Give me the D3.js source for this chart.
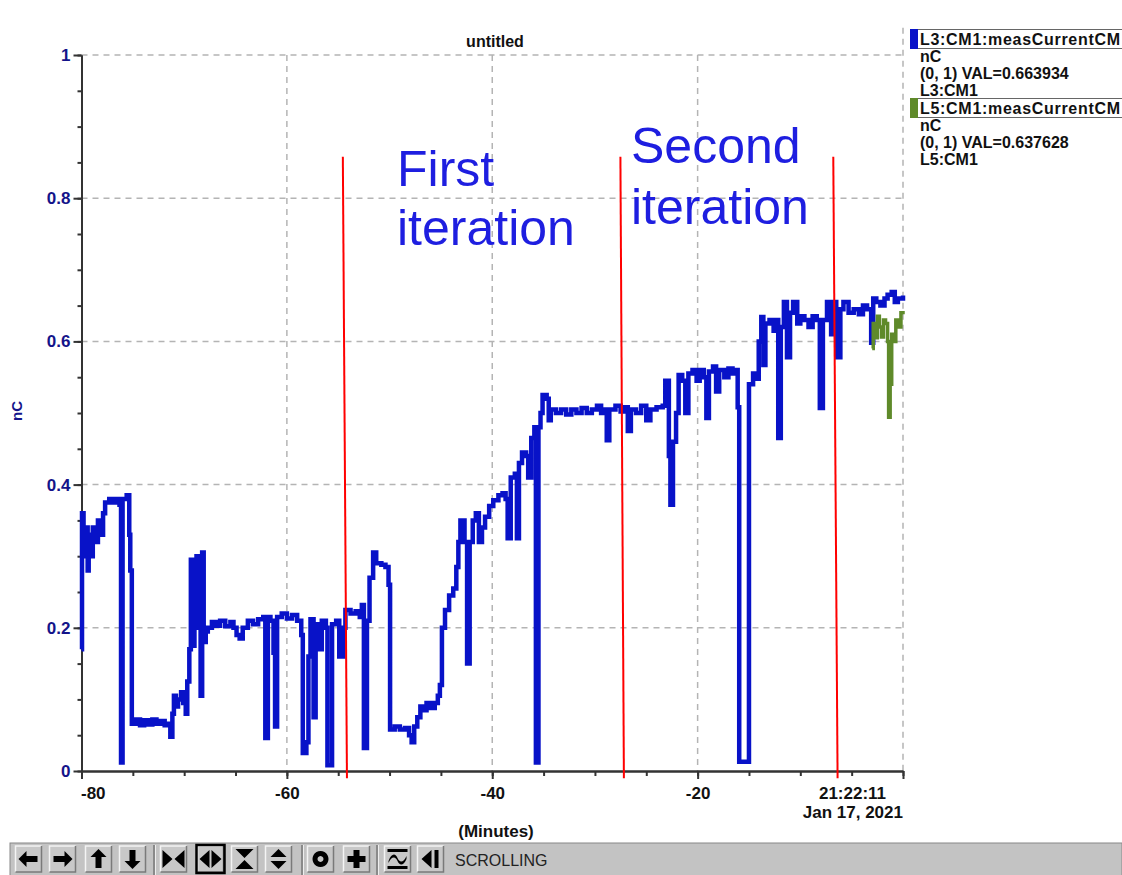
<!DOCTYPE html>
<html>
<head>
<meta charset="utf-8">
<script src="https://cdn.jsdelivr.net/npm/d3@7"></script>
<style>
  body { margin: 0; background: #fff; }
  svg { display: block; }
</style>
</head>
<body>
<div id="chart"></div>
<script>
// L3:CM1:measCurrentCM, minutes before 21:22:11 and nC
var blueT = [-80.0, -79.95, -79.8, -79.6, -79.4, -79.3, -79.1, -78.9, -78.6, -78.4, -78.1, -77.9, -77.7, -77.3, -77.0, -76.7, -76.3, -76.15, -76.0, -75.6,
  -75.35, -75.25, -75.1, -74.7, -74.3, -73.9, -73.5, -73.1, -72.7, -72.3, -71.9, -71.5, -71.35, -71.15, -71.0, -70.8, -70.6, -70.3, -70.1, -69.85,
  -69.7, -69.5, -69.35, -69.2, -69.0, -68.8, -68.6, -68.4, -68.25, -68.1, -67.9, -67.7, -67.3, -66.9, -66.5, -66.0, -65.5, -65.2, -64.9, -64.6,
  -64.3, -63.8, -63.3, -62.8, -62.3, -62.1, -61.85, -61.6, -61.3, -61.15, -60.95, -60.5, -60.0, -59.5, -59.0, -58.6, -58.45, -58.1, -57.9, -57.7,
  -57.4, -57.2, -56.8, -56.6, -56.2, -56.05, -55.6, -55.2, -54.9, -54.5, -54.3, -53.8, -53.3, -52.9, -52.7, -52.5, -52.2, -51.95, -51.6, -51.3,
  -50.8, -50.4, -50.1, -49.95, -49.5, -49.0, -48.5, -48.1, -47.85, -47.6, -47.3, -47.0, -46.7, -46.4, -46.0, -45.6, -45.3, -45.1, -44.9, -44.6,
  -44.2, -43.8, -43.5, -43.3, -43.1, -42.7, -42.45, -42.2, -41.9, -41.6, -41.3, -41.0, -40.7, -40.3, -39.9, -39.4, -39.0, -38.7, -38.5, -38.2,
  -37.8, -37.6, -37.4, -37.1, -36.7, -36.5, -36.2, -35.9, -35.75, -35.5, -35.3, -35.1, -34.7, -34.5, -34.3, -33.8, -33.3, -32.8, -32.3, -31.8,
  -31.3, -30.8, -30.3, -29.8, -29.4, -29.0, -28.85, -28.6, -28.0, -27.5, -27.1, -26.8, -26.5, -26.0, -25.5, -25.0, -24.6, -24.0, -23.4, -23.15,
  -22.8, -22.65, -22.4, -22.1, -21.85, -21.5, -21.2, -20.9, -20.5, -20.1, -19.8, -19.4, -19.15, -18.9, -18.5, -18.2, -17.9, -17.4, -17.0, -16.6,
  -16.3, -16.1, -15.95, -15.0, -14.6, -14.3, -14.05, -13.8, -13.6, -13.4, -13.0, -12.6, -12.3, -12.15, -11.9, -11.6, -11.3, -11.0, -10.7, -10.3,
  -10.0, -9.6, -9.2, -8.8, -8.4, -8.1, -7.8, -7.4, -7.0, -6.8, -6.5, -6.1, -5.8, -5.3, -4.8, -4.3, -3.9, -3.5, -3.1, -2.9,
  -2.6, -2.2, -1.8, -1.5, -1.1, -0.8, -0.5, 0.0];
var blueV = [0.17, 0.36, 0.30, 0.34, 0.28, 0.33, 0.30, 0.34, 0.32, 0.35, 0.33, 0.36, 0.375, 0.38, 0.375, 0.38, 0.372, 0.012, 0.38, 0.385,
  0.33, 0.28, 0.066, 0.072, 0.064, 0.071, 0.065, 0.072, 0.066, 0.07, 0.064, 0.066, 0.048, 0.08, 0.105, 0.09, 0.1, 0.11, 0.095, 0.08,
  0.125, 0.17, 0.295, 0.175, 0.21, 0.3, 0.2, 0.105, 0.305, 0.18, 0.195, 0.2, 0.208, 0.203, 0.21, 0.202, 0.208, 0.2, 0.19, 0.185,
  0.2, 0.21, 0.205, 0.212, 0.215, 0.046, 0.215, 0.21, 0.165, 0.062, 0.215, 0.22, 0.213, 0.218, 0.21, 0.19, 0.025, 0.04, 0.16, 0.212,
  0.075, 0.205, 0.17, 0.21, 0.2, 0.008, 0.205, 0.21, 0.16, 0.2, 0.225, 0.22, 0.223, 0.215, 0.232, 0.032, 0.21, 0.27, 0.305, 0.29,
  0.288, 0.285, 0.26, 0.058, 0.062, 0.058, 0.06, 0.05, 0.04, 0.062, 0.075, 0.09, 0.085, 0.095, 0.088, 0.095, 0.105, 0.12, 0.2, 0.225,
  0.245, 0.255, 0.285, 0.32, 0.35, 0.32, 0.15, 0.32, 0.35, 0.36, 0.32, 0.34, 0.355, 0.37, 0.378, 0.385, 0.388, 0.38, 0.325, 0.41,
  0.415, 0.325, 0.43, 0.445, 0.44, 0.41, 0.465, 0.48, 0.012, 0.48, 0.5, 0.525, 0.52, 0.49, 0.505, 0.5, 0.505, 0.498, 0.505, 0.5,
  0.507, 0.5, 0.505, 0.51, 0.5, 0.505, 0.462, 0.505, 0.51, 0.502, 0.508, 0.475, 0.505, 0.5, 0.51, 0.49, 0.505, 0.508, 0.51, 0.545,
  0.44, 0.372, 0.46, 0.5, 0.553, 0.545, 0.5, 0.555, 0.56, 0.545, 0.56, 0.55, 0.493, 0.558, 0.565, 0.53, 0.56, 0.55, 0.562, 0.555,
  0.56, 0.508, 0.013, 0.54, 0.555, 0.548, 0.6, 0.634, 0.567, 0.625, 0.63, 0.615, 0.63, 0.465, 0.62, 0.655, 0.578, 0.64, 0.655, 0.625,
  0.635, 0.63, 0.62, 0.635, 0.63, 0.507, 0.63, 0.655, 0.61, 0.655, 0.578, 0.645, 0.655, 0.64, 0.645, 0.638, 0.65, 0.645, 0.598, 0.66,
  0.655, 0.65, 0.66, 0.665, 0.669, 0.655, 0.66, 0.664];

// L5:CM1:measCurrentCM (only the last few minutes)
var greenT = [-3.0, -2.9, -2.7, -2.5, -2.3, -2.1, -1.9, -1.7, -1.5, -1.4, -1.25, -1.1, -0.9, -0.7, -0.4, -0.2, 0.0];
var greenV = [0.59, 0.625, 0.605, 0.635, 0.62, 0.606, 0.63, 0.625, 0.6, 0.494, 0.54, 0.61, 0.6, 0.63, 0.62, 0.64, 0.638];

var xMajor = [-80, -60, -40, -20, 0];
var yMajor = [0, 0.2, 0.4, 0.6, 0.8, 1];
var legendNames = ["L3:CM1:measCurrentCM", "L5:CM1:measCurrentCM"];
var legendUnits = ["nC", "nC"];
var legendVals = ["(0, 1) VAL=0.663934", "(0, 1) VAL=0.637628"];
var legendDev = ["L3:CM1", "L5:CM1"];
var legendColors = ["#0812c8", "#5f8a2a"];

// hand drawn notes: [minute at top, minute at bottom]
var noteLines = [[-54.55, -54.15], [-27.52, -27.18], [-6.79, -6.37]];
var noteTop = 0.858, noteBottom = -0.01;

var W = 1122, H = 875;
var x = d3.scaleLinear().domain([-80, 0]).range([81.5, 903]);
var y = d3.scaleLinear().domain([0, 1]).range([771, 55]);

var svg = d3.select("#chart").append("svg")
    .attr("width", W)
    .attr("height", H)
    .style("font-family", "'Liberation Sans', Arial, sans-serif");

svg.append("rect").attr("width", W).attr("height", H).attr("fill", "#fff");

// grid
var grid = svg.append("g")
    .attr("stroke", "#b4b4b4")
    .attr("stroke-width", 1.5)
    .attr("stroke-dasharray", "6,5");
grid.selectAll(".gy").data(yMajor.filter(function(d) { return d > 0; }))
  .enter().append("line")
    .attr("x1", x(-80)).attr("x2", x(0))
    .attr("y1", function(d) { return y(d); })
    .attr("y2", function(d) { return y(d); });
grid.selectAll(".gx").data(xMajor.filter(function(d) { return d > -80; }))
  .enter().append("line")
    .attr("x1", function(d) { return x(d); })
    .attr("x2", function(d) { return x(d); })
    .attr("y1", function(d) { return d === 0 ? y(1.038) : y(1); })
    .attr("y2", y(0));

// axes
var yAxis = d3.axisLeft(y).tickValues(yMajor).tickSize(8).tickSizeOuter(0).tickPadding(3)
    .tickFormat(function(d) { return d === 0 || d === 1 ? String(d) : d3.format(".1f")(d); });
var yMinor = d3.axisLeft(y).tickValues(d3.range(0, 1.001, 0.05)).tickSize(4).tickSizeOuter(0).tickFormat("");
var xAxis = d3.axisBottom(x).tickValues(xMajor).tickSize(8).tickSizeOuter(0).tickPadding(8)
    .tickFormat(function(d) { return d === 0 ? "21:22:11" : String(d); });
var xMinor = d3.axisBottom(x).tickValues(d3.range(-80, 0.1, 5)).tickSize(5).tickSizeOuter(0).tickFormat("");

var gy2 = svg.append("g").attr("transform", "translate(" + x(-80) + ",0)").call(yMinor);
var gy = svg.append("g").attr("transform", "translate(" + x(-80) + ",0)").call(yAxis);
var gx2 = svg.append("g").attr("transform", "translate(0," + y(0) + ")").call(xMinor);
var gx = svg.append("g").attr("transform", "translate(0," + y(0) + ")").call(xAxis);

[gy, gy2, gx, gx2].forEach(function(g) {
  g.select(".domain").attr("stroke", "#333").attr("stroke-width", 2);
  g.selectAll(".tick line").attr("stroke", "#333").attr("stroke-width", 2);
});
gy.selectAll(".tick text")
    .attr("fill", "#14148a").attr("font-size", "17px").attr("font-weight", "bold");
gx.selectAll(".tick text")
    .attr("fill", "#111").attr("font-size", "17px").attr("font-weight", "bold")
    .attr("text-anchor", function(d) { return d === -80 ? "start" : "middle"; })
    .attr("dx", function(d) { return d === -80 ? -1 : d === 0 ? -51 : 0; });

svg.append("text")
    .attr("x", x(0)).attr("y", 818)
    .attr("text-anchor", "end")
    .attr("font-size", "17px").attr("font-weight", "bold").attr("fill", "#111")
    .text("Jan 17, 2021");

svg.append("text")
    .attr("x", 496).attr("y", 837)
    .attr("text-anchor", "middle")
    .attr("font-size", "17px").attr("font-weight", "bold").attr("fill", "#111")
    .text("(Minutes)");

svg.append("text")
    .attr("x", 495).attr("y", 47)
    .attr("text-anchor", "middle")
    .attr("font-size", "16px").attr("font-weight", "bold").attr("fill", "#111")
    .text("untitled");

svg.append("text")
    .attr("transform", "translate(22,411) rotate(-90)")
    .attr("text-anchor", "middle")
    .attr("font-size", "15px").attr("font-weight", "bold").attr("fill", "#14148a")
    .text("nC");

// series
var line = d3.line()
    .x(function(d) { return x(d[0]); })
    .y(function(d) { return y(d[1]); })
    .curve(d3.curveStepAfter);

var bluePts = d3.zip(blueT, blueV);
var greenPts = d3.zip(greenT, greenV);

svg.append("path")
    .datum(bluePts)
    .attr("d", line)
    .attr("fill", "none")
    .attr("stroke", legendColors[0])
    .attr("stroke-width", 4.5);

svg.append("path")
    .datum(greenPts)
    .attr("d", line)
    .attr("fill", "none")
    .attr("stroke", legendColors[1])
    .attr("stroke-width", 3.5);

// red marker lines
svg.selectAll(".note").data(noteLines).enter().append("line")
    .attr("x1", function(d) { return x(d[0]); })
    .attr("x2", function(d) { return x(d[1]); })
    .attr("y1", y(noteTop))
    .attr("y2", y(noteBottom))
    .attr("stroke", "#ff0000")
    .attr("stroke-width", 2);

var noteText = svg.append("g")
    .attr("font-size", "50px")
    .attr("fill", "#1e1ee0");
noteText.append("text").attr("x", 397).attr("y", 186).text("First");
noteText.append("text").attr("x", 397).attr("y", 245).text("iteration");
noteText.append("text").attr("x", 631).attr("y", 163).text("Second");
noteText.append("text").attr("x", 631).attr("y", 224).text("iteration");

// legend
var leg = svg.append("g").attr("font-size", "16px").attr("font-weight", "bold").attr("fill", "#111");
[0, 1].forEach(function(i) {
  var top = i === 0 ? 29 : 98;
  var base = top + 16;
  leg.append("rect")
      .attr("x", 910.5).attr("y", top + 0.5).attr("width", 215).attr("height", 19)
      .attr("fill", "#fff").attr("stroke", "#666").attr("stroke-width", 1);
  leg.append("rect")
      .attr("x", 910).attr("y", top).attr("width", 8).attr("height", 20)
      .attr("fill", legendColors[i]);
  leg.append("text").attr("x", 920).attr("y", base).attr("textLength", 200).text(legendNames[i]);
  leg.append("text").attr("x", 920).attr("y", base + 17).text(legendUnits[i]);
  leg.append("text").attr("x", 920).attr("y", base + 34).text(legendVals[i]);
  leg.append("text").attr("x", 920).attr("y", base + 51).text(legendDev[i]);
});

// bottom toolbar
var bar = svg.append("g");
bar.append("rect").attr("x", 10).attr("y", 843).attr("width", W - 10).attr("height", 34)
    .attr("fill", "#c3c3c3").attr("stroke", "#888").attr("stroke-width", 1);

var btnX = [28.5, 62.5, 98.5, 132.5, 173.5, 210.5, 244.5, 278.5, 320.5, 356.5, 397.5, 430.5];
var icons = [
  "M-10,0L-2,-8L-2,-3L9,-3L9,3L-2,3L-2,8Z",
  "M10,0L2,-8L2,-3L-9,-3L-9,3L2,3L2,8Z",
  "M0,-10L-8,-2L-3,-2L-3,9L3,9L3,-2L8,-2Z",
  "M0,10L-8,2L-3,2L-3,-9L3,-9L3,2L8,2Z",
  "M-11,-9L-1,0L-11,9ZM11,-9L1,0L11,9Z",
  "M-1,-9L-11,0L-1,9ZM1,-9L11,0L1,9Z",
  "M-9,-10L9,-10L0,-1ZM-9,10L9,10L0,1Z",
  "M-8,-2L8,-2L0,-10ZM-8,2L8,2L0,10Z",
  "M0,-8A8,8 0 1,0 0.01,-8ZM0,-3A3,3 0 1,1 -0.01,-3Z",
  "M-3,-9L3,-9L3,-3L9,-3L9,3L3,3L3,9L-3,9L-3,3L-9,3L-9,-3L-3,-3Z",
  "M-10,-10L10,-10L10,-7L-10,-7ZM-10,7L10,7L10,10L-10,10ZM-9,2C-6,-6 -2,-6 0,-1C2,4 6,4 9,-3L9,0C6,7 2,7 0,2C-2,-3 -6,-3 -9,4Z",
  "M1,-9L-9,0L1,9ZM4,-9L8,-9L8,9L4,9Z"
];
btnX.forEach(function(cx, i) {
  var g = bar.append("g").attr("transform", "translate(" + cx + ",859)");
  g.append("rect").attr("x", -13).attr("y", -13).attr("width", 26).attr("height", 26)
      .attr("fill", "#c8c8c8");
  g.append("path").attr("d", "M-13,13L-13,-13L13,-13").attr("fill", "none").attr("stroke", "#f4f4f4").attr("stroke-width", 1.5);
  g.append("path").attr("d", "M-13,13L13,13L13,-13").attr("fill", "none").attr("stroke", "#7a7a7a").attr("stroke-width", 1.5);
  if (i === 5) {
    g.append("rect").attr("x", -14).attr("y", -14).attr("width", 28).attr("height", 28)
        .attr("fill", "none").attr("stroke", "#000").attr("stroke-width", 2.5);
  }
  g.append("path").attr("d", icons[i]).attr("fill", "#000").attr("fill-rule", "evenodd");
});
[154, 302, 377].forEach(function(sx) {
  bar.append("line").attr("x1", sx).attr("x2", sx).attr("y1", 845).attr("y2", 875)
      .attr("stroke", "#777").attr("stroke-width", 1.5);
  bar.append("line").attr("x1", sx + 1.5).attr("x2", sx + 1.5).attr("y1", 845).attr("y2", 875)
      .attr("stroke", "#eee").attr("stroke-width", 1);
});
bar.append("text")
    .attr("x", 455).attr("y", 866)
    .attr("font-size", "16px").attr("fill", "#222")
    .text("SCROLLING");
</script>
</body>
</html>
